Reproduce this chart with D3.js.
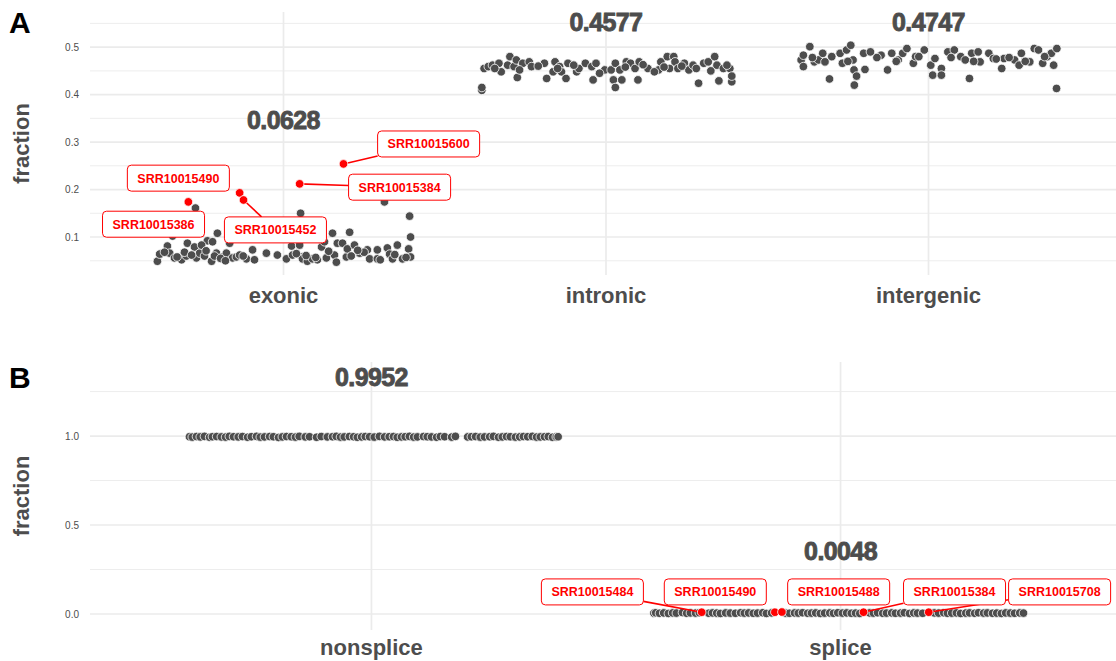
<!DOCTYPE html>
<html>
<head>
<meta charset="utf-8">
<script src="https://cdn.jsdelivr.net/npm/d3@7"></script>
<style>
  body { margin: 0; background: #fff; }
  svg { display: block; font-family: "Liberation Sans", Arial, sans-serif; }
</style>
</head>
<body>
<svg id="chart"></svg>
<script>
// ---------- panel A data ----------
const regionCats = ["exonic", "intronic", "intergenic"];
const regionMeans = ["0.0628", "0.4577", "0.4747"];
const regionMeanY = [0.346, 0.553, 0.553];

const exonicJitter = [-0.391,-0.384,-0.360,-0.353,-0.344,-0.338,-0.322,-0.316,-0.301,-0.298,-0.276,-0.273,-0.270,-0.260,-0.245,-0.236,-0.223,-0.220,-0.208,-0.205,-0.189,-0.177,-0.167,-0.158,-0.146,-0.136,-0.115,-0.096,-0.090,-0.053,-0.019,0.009,0.025,0.028,0.050,0.053,0.056,0.059,0.074,0.090,0.105,0.118,0.127,0.133,0.152,0.158,0.164,0.167,0.183,0.195,0.198,0.205,0.220,0.236,0.260,0.267,0.291,0.291,0.313,0.322,0.329,0.338,0.353,0.369,0.388,0.391,0.394,0.394,-0.369,-0.307,-0.254,-0.214,-0.330,-0.285,-0.195,-0.125,0.040,0.100,0.140,0.210,0.250,0.300,0.345,0.380,-0.240,-0.180,0.070,0.230];
const exonicValue = [0.049,0.064,0.081,0.066,0.102,0.056,0.058,0.052,0.060,0.087,0.079,0.161,0.056,0.066,0.060,0.092,0.049,0.090,0.066,0.108,0.058,0.066,0.087,0.056,0.058,0.062,0.054,0.073,0.052,0.066,0.062,0.054,0.081,0.062,0.083,0.150,0.058,0.054,0.049,0.054,0.052,0.079,0.090,0.056,0.108,0.062,0.047,0.087,0.087,0.058,0.075,0.110,0.083,0.066,0.073,0.054,0.073,0.054,0.174,0.077,0.064,0.054,0.083,0.054,0.075,0.144,0.100,0.058,0.068,0.068,0.083,0.060,0.058,0.062,0.055,0.060,0.065,0.057,0.070,0.060,0.068,0.052,0.063,0.057,0.071,0.050,0.061,0.072];

const intronicJitter = [-0.385,-0.385,-0.378,-0.365,-0.352,-0.332,-0.325,-0.305,-0.298,-0.285,-0.278,-0.275,-0.258,-0.238,-0.231,-0.191,-0.184,-0.164,-0.158,-0.144,-0.138,-0.124,-0.118,-0.091,-0.084,-0.064,-0.044,-0.040,-0.031,-0.004,0.016,0.023,0.029,0.029,0.043,0.049,0.063,0.076,0.090,0.099,0.103,0.130,0.163,0.170,0.190,0.197,0.210,0.214,0.223,0.243,0.257,0.270,0.287,0.303,0.317,0.337,0.344,0.350,0.364,0.384,0.390,0.390,-0.345,-0.268,-0.210,-0.150,-0.100,-0.020,0.060,0.115,0.150,0.180,0.235,0.280,0.325,0.375];
const intronicValue = [0.409,0.415,0.455,0.459,0.462,0.466,0.448,0.462,0.480,0.459,0.473,0.436,0.466,0.469,0.459,0.466,0.434,0.448,0.469,0.459,0.448,0.434,0.466,0.448,0.455,0.466,0.459,0.431,0.466,0.452,0.452,0.431,0.466,0.415,0.452,0.431,0.469,0.466,0.455,0.431,0.469,0.455,0.452,0.469,0.480,0.455,0.480,0.469,0.455,0.466,0.452,0.462,0.424,0.466,0.469,0.480,0.462,0.429,0.455,0.455,0.427,0.439,0.455,0.452,0.460,0.455,0.462,0.445,0.458,0.463,0.448,0.458,0.460,0.455,0.450,0.462];

const intergenicJitter = [-0.395,-0.388,-0.388,-0.368,-0.354,-0.341,-0.328,-0.321,-0.307,-0.274,-0.267,-0.254,-0.241,-0.234,-0.231,-0.230,-0.223,-0.201,-0.197,-0.180,-0.147,-0.127,-0.114,-0.094,-0.080,-0.067,-0.047,-0.040,-0.013,0.007,0.013,0.020,0.040,0.040,0.060,0.080,0.100,0.114,0.127,0.134,0.154,0.160,0.187,0.201,0.227,0.234,0.267,0.281,0.288,0.314,0.328,0.341,0.354,0.368,0.381,0.388,0.397,0.398,-0.360,-0.300,-0.250,-0.160,-0.100,-0.030,0.070,0.140,0.210,0.250,0.300,0.360];
const intergenicValue = [0.473,0.483,0.459,0.501,0.469,0.473,0.487,0.469,0.433,0.487,0.466,0.494,0.504,0.473,0.452,0.420,0.439,0.487,0.453,0.490,0.483,0.452,0.487,0.473,0.487,0.497,0.466,0.480,0.494,0.462,0.441,0.476,0.455,0.441,0.490,0.494,0.480,0.473,0.434,0.487,0.490,0.469,0.487,0.476,0.455,0.476,0.473,0.462,0.487,0.469,0.497,0.494,0.466,0.480,0.487,0.462,0.413,0.497,0.478,0.480,0.470,0.478,0.470,0.480,0.478,0.470,0.475,0.478,0.470,0.480];

const regionRedCat = [0, 0, 0, 0, 0];
const regionRedJitter = [-0.295, -0.136, -0.124, 0.050, 0.186];
const regionRedValue = [0.174, 0.193, 0.178, 0.212, 0.254];
const regionRedName = ["SRR10015386", "SRR10015490", "SRR10015452", "SRR10015384", "SRR10015600"];
const regionLabelJitter = [-0.403, -0.326, -0.025, 0.360, 0.450];
const regionLabelValue = [0.127, 0.224, 0.115, 0.205, 0.296];

// ---------- panel B data ----------
const spliceCats = ["nonsplice", "splice"];
const spliceMeans = ["0.9952", "0.0048"];
const spliceMeanY = [1.33, 0.354];

const nonspliceJitter = [-0.388,-0.382,-0.373,-0.365,-0.356,-0.345,-0.339,-0.330,-0.320,-0.311,-0.303,-0.294,-0.284,-0.275,-0.264,-0.256,-0.245,-0.237,-0.228,-0.217,-0.209,-0.198,-0.190,-0.181,-0.171,-0.162,-0.154,-0.141,-0.132,-0.117,-0.107,-0.094,-0.083,-0.075,-0.066,-0.058,-0.047,-0.038,-0.030,-0.021,-0.013,-0.004,0.006,0.017,0.028,0.038,0.047,0.055,0.064,0.072,0.081,0.090,0.098,0.111,0.119,0.128,0.139,0.147,0.156,0.171,0.179,0.205,0.213,0.222,0.232,0.241,0.252,0.260,0.271,0.279,0.288,0.296,0.307,0.316,0.324,0.333,0.343,0.352,0.360,0.369,0.377,0.386,0.394,0.398];
const nonspliceValue = [0.996,0.994,0.997,0.995,0.998,0.993,0.996,0.997,0.995,0.994,0.998,0.996,0.995,0.997,0.993,0.996,0.998,0.994,0.995,0.997,0.996,0.992,0.995,0.997,0.996,0.994,0.998,0.995,0.996,0.993,0.997,0.995,0.996,0.998,0.994,0.995,0.997,0.996,0.993,0.995,0.997,0.996,0.994,0.998,0.995,0.996,0.997,0.993,0.995,0.996,0.998,0.994,0.995,0.997,0.996,0.995,0.993,0.997,0.996,0.994,0.998,0.995,0.996,0.997,0.994,0.995,0.996,0.998,0.993,0.995,0.997,0.996,0.994,0.995,0.997,0.996,0.998,0.994,0.995,0.996,0.997,0.993,0.995,0.996];

const spliceJitter = [-0.398,-0.394,-0.386,-0.377,-0.367,-0.358,-0.350,-0.337,-0.328,-0.320,-0.309,-0.301,-0.281,-0.273,-0.264,-0.256,-0.245,-0.235,-0.224,-0.213,-0.205,-0.196,-0.186,-0.177,-0.166,-0.158,-0.147,-0.117,-0.109,-0.098,-0.090,-0.081,-0.070,-0.062,-0.053,-0.043,-0.034,-0.023,-0.015,-0.006,0.004,0.013,0.023,0.032,0.041,0.062,0.070,0.079,0.090,0.098,0.109,0.117,0.128,0.136,0.147,0.156,0.164,0.175,0.200,0.209,0.220,0.228,0.237,0.247,0.256,0.267,0.275,0.286,0.294,0.305,0.313,0.324,0.333,0.343,0.352,0.362,0.371,0.382,0.390];
const spliceValue = [0.005,0.007,0.004,0.006,0.003,0.006,0.005,0.008,0.004,0.006,0.005,0.007,0.004,0.006,0.005,0.003,0.006,0.005,0.004,0.007,0.005,0.006,0.004,0.005,0.007,0.003,0.006,0.005,0.004,0.006,0.005,0.007,0.004,0.005,0.006,0.003,0.005,0.006,0.004,0.007,0.005,0.006,0.004,0.005,0.003,0.006,0.005,0.007,0.004,0.005,0.006,0.004,0.005,0.007,0.003,0.006,0.005,0.004,0.006,0.005,0.007,0.004,0.005,0.006,0.003,0.005,0.006,0.004,0.007,0.005,0.006,0.004,0.005,0.003,0.006,0.005,0.004,0.006,0.005];

const spliceRedCat = [1, 1, 1, 1, 1];
const spliceRedJitter = [-0.296, -0.140, -0.125, 0.049, 0.188];
const spliceRedValue = [0.010, 0.010, 0.011, 0.010, 0.010];
const spliceRedName = ["SRR10015484", "SRR10015490", "SRR10015488", "SRR10015384", "SRR10015708"];
const spliceLabelJitter = [-0.529, -0.267, -0.004, 0.243, 0.467];
const spliceLabelValue = [0.124, 0.124, 0.124, 0.124, 0.124];

// ---------- drawing ----------
const width = 1116, height = 661;
const plotLeft = 90, plotRight = 1122;
const ink = "#4d4d4d", grid = "#ebebeb";

const svg = d3.select("#chart").attr("width", width).attr("height", height);

function drawPanel(cfg) {
  const g = svg.append("g");
  const x = d3.scalePoint().domain(cfg.cats).range([plotLeft, plotRight]).padding(0.6);
  const step = x.step();
  const y = d3.scaleLinear().domain(cfg.yDomain).range([cfg.bottom, cfg.top]);
  const px = (ci, j) => x(cfg.cats[ci]) + j * step;

  // grid
  g.selectAll(".minor").data(cfg.minor).join("line")
    .attr("x1", plotLeft).attr("x2", plotRight)
    .attr("y1", d => y(d)).attr("y2", d => y(d))
    .attr("stroke", grid).attr("stroke-width", 0.9);
  g.selectAll(".major").data(cfg.major).join("line")
    .attr("x1", plotLeft).attr("x2", plotRight)
    .attr("y1", d => y(d)).attr("y2", d => y(d))
    .attr("stroke", grid).attr("stroke-width", 1.7);
  g.selectAll(".vgrid").data(cfg.cats).join("line")
    .attr("x1", d => x(d)).attr("x2", d => x(d))
    .attr("y1", cfg.top).attr("y2", cfg.bottom)
    .attr("stroke", grid).attr("stroke-width", 1.7);

  // y axis labels
  const axis = d3.axisLeft(y).tickValues(cfg.major).tickFormat(d3.format(".1f")).tickSize(0).tickPadding(0);
  const ag = g.append("g").attr("transform", `translate(${plotLeft - 11},0)`).call(axis);
  ag.select(".domain").remove();
  ag.selectAll("text").attr("fill", ink).style("font-size", "10px")
    .style("font-family", '"Liberation Sans", Arial, sans-serif');

  g.append("text")
    .attr("transform", `translate(29,${(cfg.top + cfg.bottom) / 2}) rotate(-90)`)
    .attr("text-anchor", "middle")
    .attr("fill", ink).style("font-size", "22px").style("font-weight", "bold")
    .text("fraction");

  g.append("text")
    .attr("x", 9).attr("y", cfg.letterY)
    .attr("fill", "#000").style("font-size", "30px").style("font-weight", "bold")
    .text(cfg.letter);

  // points
  cfg.groups.forEach((grp, ci) => {
    g.append("g").selectAll("circle").data(grp.value).join("circle")
      .attr("cx", (d, i) => px(ci, grp.jitter[i]))
      .attr("cy", d => y(d))
      .attr("r", 4.3)
      .attr("fill", ink).attr("stroke", "#fff").attr("stroke-width", 0.8);
  });

  // mean labels
  g.selectAll(".mean").data(cfg.means).join("text")
    .attr("x", (d, i) => x(cfg.cats[i]))
    .attr("y", (d, i) => y(cfg.meanY[i]))
    .attr("dy", "0.36em")
    .attr("text-anchor", "middle")
    .attr("fill", ink).attr("stroke", ink).attr("stroke-width", 0.9)
    .style("font-size", "25px").style("font-weight", "bold").style("letter-spacing", "-0.6px")
    .text(d => d);

  // category labels
  g.selectAll(".cat").data(cfg.cats).join("text")
    .attr("x", d => x(d)).attr("y", cfg.bottom + cfg.catOffset)
    .attr("text-anchor", "middle")
    .attr("fill", ink).style("font-size", "22px").style("font-weight", "bold")
    .text(d => d);

  // highlighted samples
  const red = "#ff0000";
  const lg = g.append("g");
  const segs = lg.append("g");
  cfg.red.name.forEach((name, i) => {
    const cx = px(cfg.red.cat[i], cfg.red.jitter[i]);
    const cy = y(cfg.red.value[i]);
    const lx = px(cfg.red.cat[i], cfg.red.labelJitter[i]);
    const ly = y(cfg.red.labelValue[i]);
    const t = lg.append("text")
      .attr("x", lx).attr("y", ly).attr("dy", "0.36em")
      .attr("text-anchor", "middle")
      .attr("fill", red).style("font-size", "12.5px").style("font-weight", "bold")
      .text(name);
    const tw = t.node().getComputedTextLength();
    const hw = tw / 2 + 10, hh = 13;
    lg.insert("rect", "text")
      .attr("x", lx - hw).attr("y", ly - hh)
      .attr("width", hw * 2).attr("height", hh * 2)
      .attr("rx", 4).attr("fill", "#fff").attr("stroke", red).attr("stroke-width", 1);
    // segment from box edge to point
    const dx = cx - lx, dy = cy - ly;
    const s = Math.min(Math.abs(dx) > 0 ? hw / Math.abs(dx) : Infinity, Math.abs(dy) > 0 ? hh / Math.abs(dy) : Infinity);
    const ex = lx + dx * s, ey = ly + dy * s;
    if (s < 1 && Math.hypot(cx - ex, cy - ey) > 24) {
      segs.append("line")
        .attr("x1", ex).attr("y1", ey).attr("x2", cx).attr("y2", cy)
        .attr("stroke", red).attr("stroke-width", 1.6);
    }
    segs.append("circle")
      .attr("cx", cx).attr("cy", cy).attr("r", 4.3)
      .attr("fill", red).attr("stroke", "#fff").attr("stroke-width", 0.8);
  });
}

drawPanel({
  cats: regionCats, top: 12, bottom: 275, yDomain: [0.02, 0.574],
  major: [0.1, 0.2, 0.3, 0.4, 0.5], minor: [0.05, 0.15, 0.25, 0.35, 0.45, 0.55],
  letter: "A", letterY: 33, catOffset: 28,
  groups: [
    { jitter: exonicJitter, value: exonicValue },
    { jitter: intronicJitter, value: intronicValue },
    { jitter: intergenicJitter, value: intergenicValue }
  ],
  means: regionMeans, meanY: regionMeanY,
  red: { cat: regionRedCat, jitter: regionRedJitter, value: regionRedValue, name: regionRedName,
         labelJitter: regionLabelJitter, labelValue: regionLabelValue }
});

drawPanel({
  cats: spliceCats, top: 362, bottom: 630, yDomain: [-0.09, 1.416],
  major: [0, 0.5, 1.0], minor: [0.25, 0.75, 1.25],
  letter: "B", letterY: 388, catOffset: 25,
  groups: [
    { jitter: nonspliceJitter, value: nonspliceValue },
    { jitter: spliceJitter, value: spliceValue }
  ],
  means: spliceMeans, meanY: spliceMeanY,
  red: { cat: spliceRedCat, jitter: spliceRedJitter, value: spliceRedValue, name: spliceRedName,
         labelJitter: spliceLabelJitter, labelValue: spliceLabelValue }
});
</script>
</body>
</html>
